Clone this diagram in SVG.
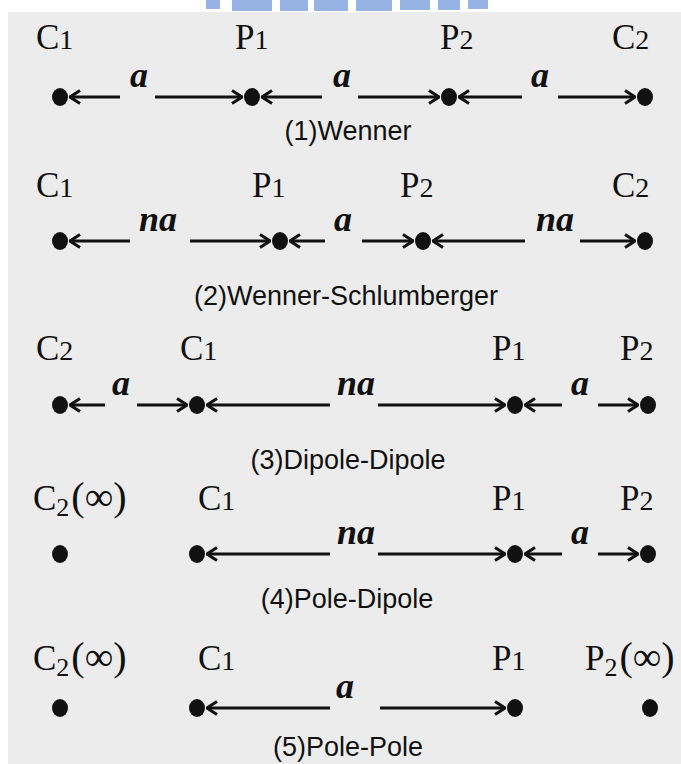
<svg xmlns="http://www.w3.org/2000/svg" width="681" height="764" viewBox="0 0 681 764">
<style>
.lbl{font-family:"Liberation Serif","Times New Roman",serif;font-size:35px;fill:#111}
.sub{font-size:28px}
.low{font-size:26px}
.inf{font-size:40px}
.dist{font-family:"Liberation Serif","Times New Roman",serif;font-size:36px;font-style:italic;font-weight:bold;fill:#111;text-anchor:middle}
.cap{font-family:"Liberation Sans",Arial,sans-serif;font-size:27px;fill:#111;text-anchor:middle}
.dot{fill:#111}
.ln{stroke:#111;stroke-width:3;fill:none;marker-end:url(#arr)}
.logo{fill:#97b3e3}
</style>
<defs>
<marker id="arr" viewBox="0 0 12 16" refX="11" refY="8" markerWidth="12" markerHeight="16" orient="auto" markerUnits="userSpaceOnUse">
<path d="M1,1.5 L11,8 L1,14.5" fill="none" stroke="#111" stroke-width="3"/>
</marker>
</defs>
<rect width="681" height="764" fill="#ffffff"/>
<rect x="8" y="12" width="673" height="752" fill="#ececec"/>
<g id="logo">
<rect class="logo" x="206" y="0" width="14" height="9"/>
<rect class="logo" x="232" y="0" width="40" height="11"/>
<rect class="logo" x="280" y="0" width="28" height="11"/>
<rect class="logo" x="314" y="0" width="34" height="11"/>
<rect class="logo" x="356" y="0" width="36" height="11"/>
<rect class="logo" x="400" y="0" width="30" height="10"/>
<rect class="logo" x="438" y="0" width="22" height="10"/>
<rect class="logo" x="468" y="0" width="20" height="9"/>
</g>

<g id="connectors">
<!-- row 1 -->
<line class="ln" x1="120" y1="97" x2="70" y2="97"/>
<line class="ln" x1="155" y1="97" x2="242" y2="97"/>
<line class="ln" x1="322" y1="97" x2="262" y2="97"/>
<line class="ln" x1="358" y1="97" x2="439" y2="97"/>
<line class="ln" x1="522" y1="97" x2="459" y2="97"/>
<line class="ln" x1="558" y1="97" x2="635" y2="97"/>
<!-- row 2 -->
<line class="ln" x1="130" y1="241" x2="70" y2="241"/>
<line class="ln" x1="190" y1="241" x2="270" y2="241"/>
<line class="ln" x1="325" y1="241" x2="290" y2="241"/>
<line class="ln" x1="362" y1="241" x2="413" y2="241"/>
<line class="ln" x1="525" y1="241" x2="433" y2="241"/>
<line class="ln" x1="580" y1="241" x2="635" y2="241"/>
<!-- row 3 -->
<line class="ln" x1="105" y1="405" x2="70" y2="405"/>
<line class="ln" x1="137" y1="405" x2="187" y2="405"/>
<line class="ln" x1="330" y1="405" x2="207" y2="405"/>
<line class="ln" x1="378" y1="405" x2="505" y2="405"/>
<line class="ln" x1="562" y1="405" x2="525" y2="405"/>
<line class="ln" x1="598" y1="405" x2="638" y2="405"/>
<!-- row 4 -->
<line class="ln" x1="330" y1="554" x2="207" y2="554"/>
<line class="ln" x1="378" y1="554" x2="505" y2="554"/>
<line class="ln" x1="562" y1="554" x2="525" y2="554"/>
<line class="ln" x1="598" y1="554" x2="638" y2="554"/>
<!-- row 5 -->
<line class="ln" x1="330" y1="708" x2="207" y2="708"/>
<line class="ln" x1="380" y1="708" x2="505" y2="708"/>
</g>

<g id="wenner">
<text class="lbl" x="36" y="49">C<tspan class="sub">1</tspan></text>
<text class="lbl" x="235" y="49">P<tspan class="sub">1</tspan></text>
<text class="lbl" x="440" y="49">P<tspan class="sub">2</tspan></text>
<text class="lbl" x="612" y="49">C<tspan class="sub">2</tspan></text>
<ellipse class="dot" cx="60" cy="97" rx="8" ry="9"/>
<ellipse class="dot" cx="252" cy="97" rx="8" ry="9"/>
<ellipse class="dot" cx="449" cy="97" rx="8" ry="9"/>
<ellipse class="dot" cx="645" cy="97" rx="8" ry="9"/>
<text class="dist" x="139" y="87">a</text>
<text class="dist" x="342" y="87">a</text>
<text class="dist" x="540" y="87">a</text>
<text class="cap" x="348" y="140">(1)Wenner</text>
</g>

<g id="wenner-schlumberger">
<text class="lbl" x="36" y="197">C<tspan class="sub">1</tspan></text>
<text class="lbl" x="252" y="197">P<tspan class="sub">1</tspan></text>
<text class="lbl" x="400" y="197">P<tspan class="sub">2</tspan></text>
<text class="lbl" x="612" y="197">C<tspan class="sub">2</tspan></text>
<ellipse class="dot" cx="60" cy="241" rx="8" ry="9"/>
<ellipse class="dot" cx="280" cy="241" rx="8" ry="9"/>
<ellipse class="dot" cx="423" cy="241" rx="8" ry="9"/>
<ellipse class="dot" cx="645" cy="241" rx="8" ry="9"/>
<text class="dist" x="158" y="231">na</text>
<text class="dist" x="343" y="231">a</text>
<text class="dist" x="555" y="231">na</text>
<text class="cap" x="346" y="305">(2)Wenner-Schlumberger</text>
</g>

<g id="dipole-dipole">
<text class="lbl" x="36" y="360">C<tspan class="sub">2</tspan></text>
<text class="lbl" x="180" y="360">C<tspan class="sub">1</tspan></text>
<text class="lbl" x="492" y="360">P<tspan class="sub">1</tspan></text>
<text class="lbl" x="620" y="360">P<tspan class="sub">2</tspan></text>
<ellipse class="dot" cx="60" cy="405" rx="8" ry="9"/>
<ellipse class="dot" cx="197" cy="405" rx="8" ry="9"/>
<ellipse class="dot" cx="515" cy="405" rx="8" ry="9"/>
<ellipse class="dot" cx="648" cy="405" rx="8" ry="9"/>
<text class="dist" x="121" y="395">a</text>
<text class="dist" x="356" y="395">na</text>
<text class="dist" x="580" y="395">a</text>
<text class="cap" x="348" y="469">(3)Dipole-Dipole</text>
</g>

<g id="pole-dipole">
<text class="lbl" x="33" y="510">C<tspan class="low" dy="6">2</tspan><tspan class="inf" dy="-6" dx="2">(∞)</tspan></text>
<text class="lbl" x="198" y="510">C<tspan class="sub">1</tspan></text>
<text class="lbl" x="492" y="510">P<tspan class="sub">1</tspan></text>
<text class="lbl" x="620" y="510">P<tspan class="sub">2</tspan></text>
<ellipse class="dot" cx="60" cy="554" rx="8" ry="9"/>
<ellipse class="dot" cx="197" cy="554" rx="8" ry="9"/>
<ellipse class="dot" cx="515" cy="554" rx="8" ry="9"/>
<ellipse class="dot" cx="648" cy="554" rx="8" ry="9"/>
<text class="dist" x="356" y="544">na</text>
<text class="dist" x="580" y="544">a</text>
<text class="cap" x="347" y="608">(4)Pole-Dipole</text>
</g>

<g id="pole-pole">
<text class="lbl" x="33" y="670">C<tspan class="low" dy="6">2</tspan><tspan class="inf" dy="-6" dx="2">(∞)</tspan></text>
<text class="lbl" x="198" y="670">C<tspan class="sub">1</tspan></text>
<text class="lbl" x="492" y="670">P<tspan class="sub">1</tspan></text>
<text class="lbl" x="585" y="670">P<tspan class="low" dy="6">2</tspan><tspan class="inf" dy="-6" dx="2">(∞)</tspan></text>
<ellipse class="dot" cx="60" cy="708" rx="8" ry="9"/>
<ellipse class="dot" cx="197" cy="708" rx="8" ry="9"/>
<ellipse class="dot" cx="515" cy="708" rx="8" ry="9"/>
<ellipse class="dot" cx="650" cy="708" rx="8" ry="9"/>
<text class="dist" x="345" y="698">a</text>
<text class="cap" x="348" y="756">(5)Pole-Pole</text>
</g>
</svg>
